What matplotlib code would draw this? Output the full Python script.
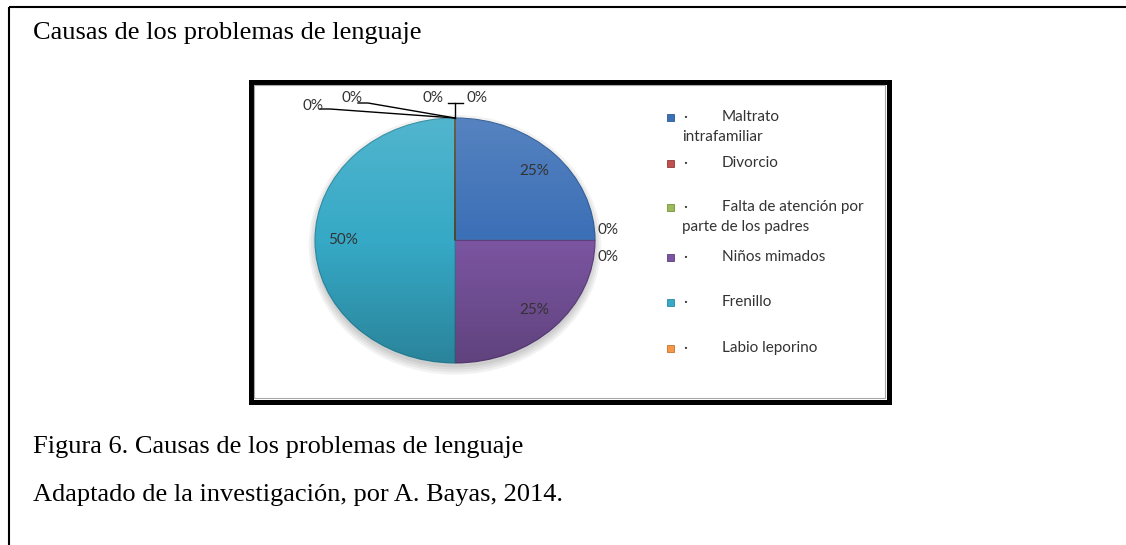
import numpy as np
import matplotlib.pyplot as plt
from matplotlib.patches import Rectangle, Ellipse

# data (4 zero labels at top, 2 at right -> 9 slices, legend shows 6)
legend_names = ["Maltrato\nintrafamiliar", "Divorcio", "Falta de atención por\nparte de los padres",
                "Niños mimados", "Frenillo", "Labio leporino"]
values = [25, 0, 0, 25, 50, 0, 0, 0, 0]
pct_labels = ["25%", "0%", "0%", "25%", "50%", "0%", "0%", "0%", "0%"]
colors = ["#3b6fb6", "#c0504d", "#9bbb59", "#7b55a1", "#36a9c6", "#f79646",
          "#2c4d75", "#772c2a", "#5f7530"]

title = "Causas de los problemas de lenguaje"
caption = "Figura 6. Causas de los problemas de lenguaje"
source = "Adaptado de la investigación, por A. Bayas, 2014."

W, H = 1126, 545
fig = plt.figure(figsize=(W / 100, H / 100), dpi=100)

# pie axes covers the inner chart frame; pie centre at (455, 240.5) px, radii 140 x 122.5 px
cx, cy, rx, ry = 455, 240.5, 140, 122.5
bl, br, bt, bb = 253, 886, 84, 399
ax = fig.add_axes([bl / W, 1 - bb / H, (br - bl) / W, (bb - bt) / H])


def to_data(px, py):
    return (px - cx) / rx, (cy - py) / ry


# soft shadow under the pie
for i, a in enumerate([0.05, 0.05, 0.05, 0.05]):
    ax.add_patch(Ellipse((0.0, -0.035), 2.0 + 0.03 * i, 2.0 + 0.04 * i,
                         color="black", alpha=a, lw=0, zorder=0))

edge = ["#2b5a94", "#8e3b39", "#76903f", "#5c3f7b", "#2a8aa2", "#c2752f",
        "#223b5a", "#5a2120", "#475824"]
wedges, _ = ax.pie(values, colors=colors, startangle=90, counterclock=False,
                   radius=1, wedgeprops=dict(linewidth=0.8))
for w, e in zip(wedges, edge):
    w.set_edgecolor(e)
    w.set_zorder(2)

# light-to-dark vertical shading like the Office bevel
t = np.linspace(0, 1, 200)[:, None] * np.ones((1, 2))
grad = np.zeros((200, 2, 4))
grad[..., 0] = np.where(t < 0.5, 1.0, 0.0)
grad[..., 1] = grad[..., 0]
grad[..., 2] = grad[..., 0]
grad[..., 3] = np.where(t < 0.5, 0.14 * (1 - 2 * t), 0.22 * (2 * t - 1))
clip = Ellipse((0, 0), 2, 2, transform=ax.transData)
im = ax.imshow(grad, extent=(-1, 1, -1, 1), origin="upper", zorder=3, interpolation="bilinear")
im.set_clip_path(clip)

ax.set_aspect("auto")
xa, ya = to_data(bl, bb)
xb, yb = to_data(br, bt)
ax.set_xlim(xa, xb)
ax.set_ylim(ya, yb)
ax.axis("off")

lab_font = dict(family="Lato", fontsize=11, color="#333333")

# labels of non-zero slices at 0.8 of the radius along the mid angle
for w, lab, v in zip(wedges, pct_labels, values):
    if v == 0:
        continue
    mid = np.deg2rad((w.theta1 + w.theta2) / 2)
    ax.text(0.8 * np.cos(mid), 0.8 * np.sin(mid), lab, ha="center", va="center",
            zorder=5, **lab_font)

# zero slices: two at 3 o'clock, four at 12 o'clock with leader lines
zero_pos = {1: (597, 230, "left"), 2: (597, 257, "left"),
            5: (313, 106, "center"), 6: (352, 98, "center"),
            7: (433, 98, "center"), 8: (477, 98, "center")}
for i, (px, py, ha) in zero_pos.items():
    x, y = to_data(px, py)
    ax.text(x, y, pct_labels[i], ha=ha, va="center", zorder=5, **lab_font)

ang = np.deg2rad(wedges[5].theta1)
anchor = (np.cos(ang), np.sin(ang))
line_kw = dict(color="black", lw=1.0, zorder=4, clip_on=False)
for sx, sy in [(330, 109), (368, 103)]:
    x, y = to_data(sx, sy)
    x2, y2 = to_data(sx - 10, sy)
    ax.plot([x2, x, anchor[0]], [y, y, anchor[1]], **line_kw)
tx, ty = to_data(455, 103)
ax.plot([anchor[0], anchor[0]], [anchor[1], ty], **line_kw)
hx1, _ = to_data(448, 103)
hx2, _ = to_data(463, 103)
ax.plot([hx1, hx2], [ty, ty], **line_kw)

# overlay in pixel coordinates for frames, legend and text
ov = fig.add_axes([0, 0, 1, 1], facecolor="none")
ov.set_xlim(0, W)
ov.set_ylim(H, 0)
ov.axis("off")

# page frame (top and left rule)
ov.plot([8.5, W], [6.5, 6.5], color="black", lw=1.5, solid_capstyle="butt")
ov.plot([8.5, 8.5], [6.5, H], color="black", lw=1.5, solid_capstyle="butt")

# chart frame
ov.add_patch(Rectangle((250.5, 81.5), 638, 320, fill=False, ec="black", lw=3.6))
ov.add_patch(Rectangle((253.8, 84.8), 631.4, 313.4, fill=False, ec="#a8a8a8", lw=0.8))

# legend
leg_y = [117, 163, 207, 257, 302, 348]
for name, col, e, y in zip(legend_names, colors, edge, leg_y):
    ov.add_patch(Rectangle((667, y - 3.5), 7, 7, fc=col, ec=e, lw=0.6))
    ov.text(683, y, "·", ha="left", va="center", **lab_font)
    lines = name.split("\n")
    ov.text(722, y, lines[0], ha="left", va="center", **lab_font)
    if len(lines) > 1:
        ov.text(682, y + 20, lines[1], ha="left", va="center", **lab_font)

serif = dict(family="Liberation Serif", fontsize=19, color="black")
ov.text(33, 33, title, ha="left", va="center", **serif)
ov.text(33, 447, caption, ha="left", va="center", **serif)
ov.text(33, 495, source, ha="left", va="center", **serif)

fig.savefig("out.png", dpi=100)
